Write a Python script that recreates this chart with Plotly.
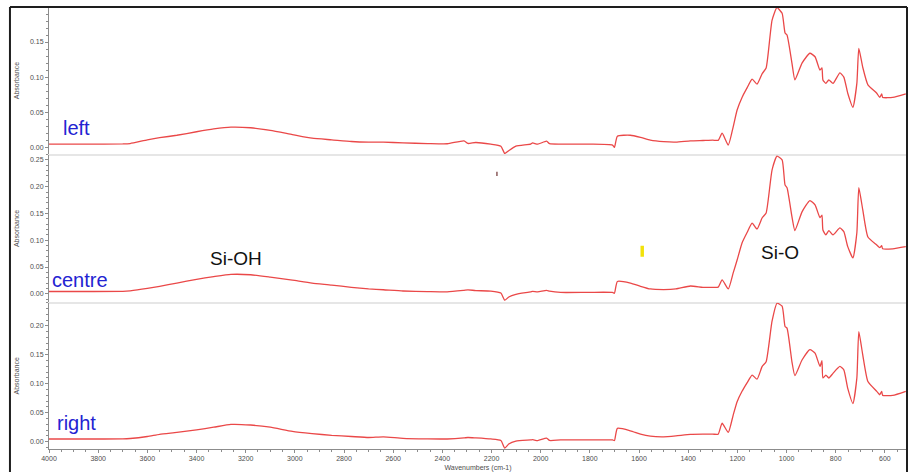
import plotly.graph_objects as go

# Wavenumber grid (cm-1) shared by the three spectra
wavenumber = [4000, 3850, 3700, 3670, 3600, 3550, 3480, 3400, 3330, 3260, 3180, 3100, 3010, 2930,
              2850, 2770, 2700, 2640, 2560, 2460, 2380, 2312, 2296, 2264, 2203, 2162, 2146, 2130,
              2101, 2041, 2033, 2012, 1976, 1964, 1919, 1800, 1708, 1700, 1688, 1635, 1594, 1554,
              1500, 1450, 1391, 1340, 1300, 1278, 1262, 1237, 1217, 1201, 1181, 1160, 1140, 1120,
              1099, 1083, 1059, 1039, 1018, 1006, 998, 978, 966, 937, 905, 884, 864, 856, 852,
              840, 828, 811, 783, 767, 751, 730, 714, 706, 690, 669, 633, 621, 613, 609, 568, 515]

abs_left = [0.0043, 0.0044, 0.0046, 0.0052, 0.0105, 0.0135, 0.017, 0.022, 0.026, 0.0286, 0.0277,
            0.024, 0.018, 0.0128, 0.0105, 0.0081, 0.0072, 0.0072, 0.0061, 0.0052, 0.0049, 0.009,
            0.0053, 0.0067, 0.0043, 0.0014, -0.009, -0.005, 0.0014, 0.0043, 0.006, 0.0043, 0.0086,
            0.005, 0.0043, 0.0043, 0.003, -0.0004, 0.0157, 0.017, 0.0139, 0.010, 0.0078, 0.0072,
            0.009, 0.0095, 0.010, 0.0098, 0.020, 0.003, 0.029, 0.053, 0.071, 0.085, 0.097, 0.090,
            0.105, 0.113, 0.181, 0.199, 0.191, 0.163, 0.160, 0.120, 0.096, 0.120, 0.134, 0.129,
            0.110, 0.113, 0.096, 0.091, 0.096, 0.091, 0.106, 0.100, 0.077, 0.057, 0.091, 0.141,
            0.114, 0.089, 0.077, 0.071, 0.076, 0.071, 0.071, 0.076]

abs_centre = [0.0043, 0.0043, 0.0045, 0.0055, 0.010, 0.014, 0.020, 0.027, 0.032, 0.0362, 0.0355,
              0.031, 0.0254, 0.020, 0.0163, 0.012, 0.0091, 0.0075, 0.0052, 0.0042, 0.0037, 0.0065,
              0.0073, 0.006, 0.005, 0.0013, -0.012, -0.006, -0.001, 0.0035, 0.0045, 0.0037, 0.0065,
              0.005, 0.0025, 0.0027, 0.0025, 0.001, 0.023, 0.020, 0.014, 0.009, 0.0079, 0.009,
              0.0145, 0.012, 0.012, 0.0125, 0.026, 0.009, 0.039, 0.063, 0.095, 0.115, 0.132, 0.121,
              0.142, 0.151, 0.231, 0.257, 0.250, 0.203, 0.198, 0.144, 0.118, 0.153, 0.174, 0.166,
              0.142, 0.147, 0.119, 0.110, 0.118, 0.110, 0.123, 0.116, 0.088, 0.067, 0.114, 0.198,
              0.157, 0.106, 0.091, 0.086, 0.090, 0.084, 0.084, 0.088]

abs_right = [0.0047, 0.0047, 0.0048, 0.0055, 0.009, 0.0126, 0.016, 0.0204, 0.025, 0.0299, 0.0288,
             0.025, 0.0178, 0.014, 0.011, 0.009, 0.0073, 0.0084, 0.0058, 0.0049, 0.0047, 0.0065,
             0.0073, 0.0065, 0.0047, 0.0021, -0.011, -0.004, 0.001, 0.003, 0.0035, 0.002, 0.0063,
             0.0021, 0.003, 0.003, 0.0031, 0.002, 0.023, 0.0189, 0.013, 0.0095, 0.0084, 0.010,
             0.0126, 0.013, 0.013, 0.013, 0.032, 0.016, 0.046, 0.069, 0.087, 0.102, 0.115, 0.108,
             0.130, 0.138, 0.208, 0.239, 0.234, 0.199, 0.196, 0.138, 0.114, 0.141, 0.159, 0.153,
             0.130, 0.140, 0.110, 0.115, 0.110, 0.118, 0.130, 0.124, 0.092, 0.066, 0.110, 0.190,
             0.150, 0.104, 0.087, 0.081, 0.087, 0.080, 0.080, 0.087]

x_ticks = [4000, 3800, 3600, 3400, 3200, 3000, 2800, 2600, 2400, 2200, 2000, 1800, 1600,
           1400, 1200, 1000, 800, 600]
ticks_left = [0.00, 0.05, 0.10, 0.15]
ticks_centre = [0.00, 0.05, 0.10, 0.15, 0.20, 0.25]
ticks_right = [0.00, 0.05, 0.10, 0.15, 0.20]

FONT = "Liberation Sans, Arial, sans-serif"
LINE_RED = "rgb(234,72,72)"
AXIS_GREY = "#8c8c8c"
TEXT_GREY = "#4d4d4d"
SEP_GREY = "#e6e6e6"
LABEL_BLUE = "#2323d2"

fig = go.Figure()
for ax, vals in (("", abs_left), ("2", abs_centre), ("3", abs_right)):
    fig.add_trace(go.Scatter(
        x=wavenumber, y=vals, mode="lines",
        line=dict(color=LINE_RED, width=1.3, shape="spline", smoothing=0.5),
        xaxis="x" + ax, yaxis="y" + ax, showlegend=False, hoverinfo="skip"))


def y_axis(domain, rng, ticks):
    return dict(
        domain=domain, range=rng, tickvals=ticks, tickformat=".2f",
        showline=True, linecolor=AXIS_GREY, linewidth=1,
        ticks="outside", ticklen=3, tickcolor=AXIS_GREY, tickwidth=1,
        minor=dict(ticks="outside", ticklen=2, dtick=0.01, tickcolor=AXIS_GREY),
        showgrid=False, zeroline=False,
        tickfont=dict(size=7, color=TEXT_GREY, family=FONT),
        title=dict(text="Absorbance", font=dict(size=7, color=TEXT_GREY, family=FONT), standoff=9),
        automargin=False)


def x_axis_hidden(anchor):
    return dict(
        range=[4000, 510], anchor=anchor, matches="x3",
        showline=True, linecolor=SEP_GREY, linewidth=2,
        ticks="", showticklabels=False, showgrid=False, zeroline=False, automargin=False)


fig.update_layout(
    width=915, height=472,
    margin=dict(l=49, r=8, t=7, b=23),
    paper_bgcolor="white", plot_bgcolor="white",
    font=dict(family=FONT),
    xaxis=x_axis_hidden("y"),
    xaxis2=x_axis_hidden("y2"),
    xaxis3=dict(
        range=[4000, 510], anchor="y3", tickvals=x_ticks,
        showline=True, linecolor=AXIS_GREY, linewidth=1,
        ticks="outside", ticklen=3, tickcolor=AXIS_GREY,
        minor=dict(ticks="outside", ticklen=2, dtick=50, tickcolor=AXIS_GREY),
        showgrid=False, zeroline=False,
        tickfont=dict(size=7, color=TEXT_GREY, family=FONT),
        title=dict(text="Wavenumbers (cm-1)", font=dict(size=7, color=TEXT_GREY, family=FONT),
                   standoff=3),
        automargin=False),
    yaxis=y_axis([0.667, 1.0], [-0.01, 0.2], ticks_left),
    yaxis2=y_axis([0.333, 0.665], [-0.015, 0.259], ticks_centre),
    yaxis3=y_axis([0.0, 0.331], [-0.0126, 0.24], ticks_right),
)

# Sample position labels
for text, xv, yv, yref in (("left", 3952, 0.027, "y"),
                           ("centre", 3995, 0.026, "y2"),
                           ("right", 3975, 0.032, "y3")):
    fig.add_annotation(text=text, x=xv, y=yv, xref="x", yref=yref, xanchor="left",
                       yanchor="middle", showarrow=False,
                       font=dict(size=20, color=LABEL_BLUE, family=FONT))

# Band assignments
fig.add_annotation(text="Si-OH", x=3241, y=0.065, xref="x2", yref="y2", showarrow=False,
                   font=dict(size=19, color="#111111", family=FONT))
fig.add_annotation(text="Si-O", x=1026, y=0.0765, xref="x2", yref="y2", showarrow=False,
                   font=dict(size=19, color="#111111", family=FONT))

# Small cursor marks in the centre panel
fig.add_shape(type="rect", xref="x2", yref="y2", x0=1594, x1=1580, y0=0.069, y1=0.0896,
              fillcolor="#f2e20a", line=dict(width=0))
fig.add_shape(type="line", xref="x2", yref="y2", x0=2178, x1=2178, y0=0.220, y1=0.228,
              line=dict(color="#8a5a5a", width=1.5))

# Outer frame
fig.add_shape(type="line", xref="paper", yref="paper", x0=-0.0455, x1=1.0, y0=1.0, y1=1.0,
              line=dict(color="#1e1e1e", width=2))
fig.add_shape(type="line", xref="paper", yref="paper", x0=-0.0455, x1=-0.0455, y0=-0.06, y1=1.0,
              line=dict(color="#1e1e1e", width=2))
fig.add_shape(type="line", xref="paper", yref="paper", x0=1.0, x1=1.0, y0=-0.06, y1=1.0,
              line=dict(color="#1e1e1e", width=2))

fig.write_html("out.html")
